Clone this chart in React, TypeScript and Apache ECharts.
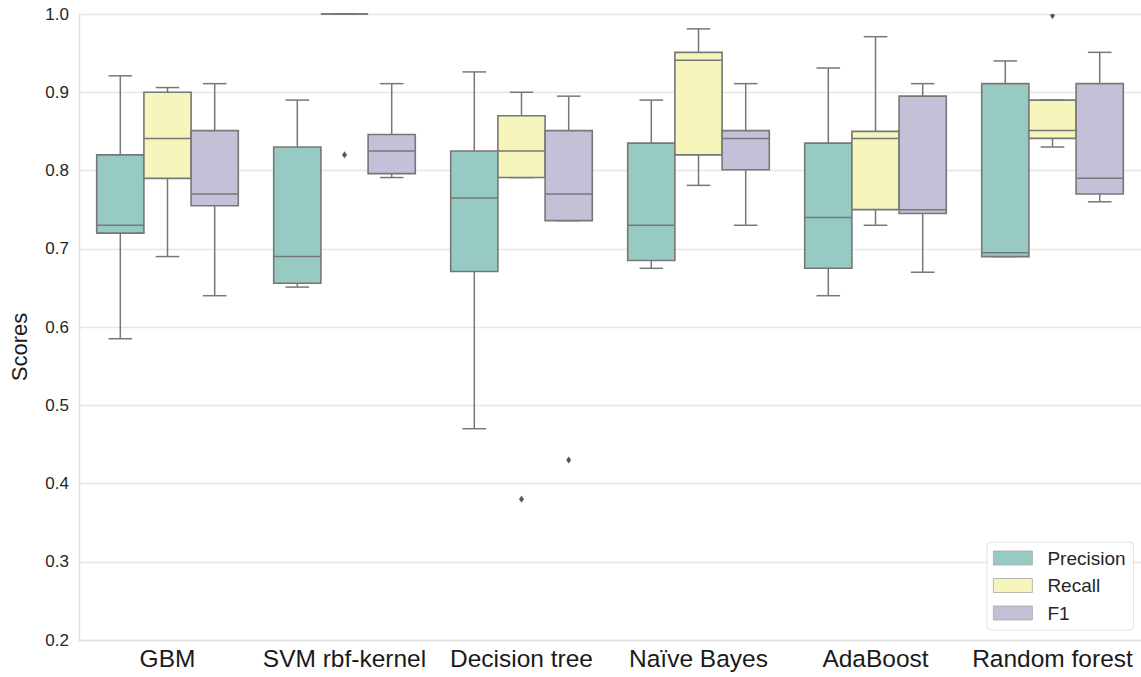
import React, { useEffect, useRef } from "react";
import * as echarts from "echarts";

const categories = ["GBM", "SVM rbf-kernel", "Decision tree", "Naïve Bayes", "AdaBoost", "Random forest"];
const metrics = ["Precision", "Recall", "F1"];
const metricColors = ["#96cac3", "#f5f5bc", "#c3c0d8"];
const yTicks = [0.2, 0.3, 0.4, 0.5, 0.6, 0.7, 0.8, 0.9, 1.0];

// [lower whisker, Q1, median, Q3, upper whisker]
const precisionStats = [
  [0.585, 0.72, 0.73, 0.82, 0.921],
  [0.651, 0.656, 0.69, 0.83, 0.89],
  [0.47, 0.671, 0.765, 0.825, 0.926],
  [0.675, 0.685, 0.73, 0.835, 0.89],
  [0.64, 0.675, 0.74, 0.835, 0.931],
  [0.69, 0.69, 0.695, 0.911, 0.94],
];
const recallStats = [
  [0.69, 0.79, 0.841, 0.9, 0.906],
  [1.0, 1.0, 1.0, 1.0, 1.0],
  [0.791, 0.791, 0.825, 0.87, 0.9],
  [0.781, 0.82, 0.941, 0.951, 0.981],
  [0.73, 0.75, 0.841, 0.85, 0.971],
  [0.83, 0.841, 0.851, 0.89, 0.89],
];
const f1Stats = [
  [0.64, 0.755, 0.77, 0.851, 0.911],
  [0.791, 0.796, 0.825, 0.846, 0.911],
  [0.736, 0.736, 0.77, 0.851, 0.895],
  [0.73, 0.801, 0.841, 0.851, 0.911],
  [0.67, 0.745, 0.75, 0.895, 0.911],
  [0.76, 0.77, 0.79, 0.911, 0.951],
];
// [category index, metric index, value]
const outliers = [
  [1, 1, 0.82],
  [2, 1, 0.38],
  [5, 1, 0.998],
  [2, 2, 0.43],
];

const allStats = [precisionStats, recallStats, f1Stats];
const LINE = "#777777";
const FONT = "Liberation Sans, Arial, Helvetica, sans-serif";

function makeBoxRenderer(metricIdx: number, fill: string) {
  return (params: any, api: any) => {
    const cat = api.value(0);
    const lo = api.value(1);
    const q1 = api.value(2);
    const med = api.value(3);
    const q3 = api.value(4);
    const hi = api.value(5);
    const band = api.size([1, 0])[0];
    const bw = (band * 0.8) / 3;
    const cx = api.coord([cat, med])[0] + (metricIdx - 1) * bw;
    const yLo = api.coord([cat, lo])[1];
    const yQ1 = api.coord([cat, q1])[1];
    const yMed = api.coord([cat, med])[1];
    const yQ3 = api.coord([cat, q3])[1];
    const yHi = api.coord([cat, hi])[1];
    const ls = { stroke: LINE, lineWidth: 1.5 };
    const capHalf = bw / 4;
    return {
      type: "group",
      children: [
        { type: "line", shape: { x1: cx, y1: yHi, x2: cx, y2: yQ3 }, style: ls },
        { type: "line", shape: { x1: cx - capHalf, y1: yHi, x2: cx + capHalf, y2: yHi }, style: ls },
        { type: "line", shape: { x1: cx, y1: yQ1, x2: cx, y2: yLo }, style: ls },
        { type: "line", shape: { x1: cx - capHalf, y1: yLo, x2: cx + capHalf, y2: yLo }, style: ls },
        {
          type: "rect",
          shape: { x: cx - bw / 2, y: yQ3, width: bw, height: yQ1 - yQ3 },
          style: { fill, stroke: LINE, lineWidth: 1.6 },
        },
        { type: "line", shape: { x1: cx - bw / 2, y1: yMed, x2: cx + bw / 2, y2: yMed }, style: ls },
      ],
    };
  };
}

function renderOutlier(params: any, api: any) {
  const cat = api.value(0);
  const m = api.value(1);
  const v = api.value(2);
  const band = api.size([1, 0])[0];
  const bw = (band * 0.8) / 3;
  const p = api.coord([cat, v]);
  const cx = p[0] + (m - 1) * bw;
  const cy = p[1];
  return {
    type: "polygon",
    shape: { points: [[cx, cy - 3.2], [cx + 2.2, cy], [cx, cy + 3.2], [cx - 2.2, cy]] },
    style: { fill: "#555555", stroke: "#555555", lineWidth: 0.5 },
  };
}

export default function App() {
  const ref = useRef<HTMLDivElement>(null);
  useEffect(() => {
    if (!ref.current) return;
    const chart = echarts.init(ref.current, undefined, { renderer: "svg" });
    const boxSeries = metrics.map((name, mi) => ({
      name,
      type: "custom",
      renderItem: makeBoxRenderer(mi, metricColors[mi]),
      itemStyle: { color: metricColors[mi] },
      encode: { x: 0, y: [1, 2, 3, 4, 5] },
      data: allStats[mi].map((s, ci) => [ci, ...s]),
      z: 3,
    }));
    chart.setOption({
      animation: false,
      backgroundColor: "#ffffff",
      textStyle: { fontFamily: FONT },
      grid: { left: 71, top: 14, width: 1072, height: 626 },
      xAxis: {
        type: "category",
        data: categories,
        boundaryGap: true,
        axisLine: { show: true, lineStyle: { color: "#dedede", width: 1.3 } },
        axisTick: { show: false },
        axisLabel: { fontSize: 24.5, color: "#1a1a1a", margin: 6, fontFamily: FONT, interval: 0 },
        splitLine: { show: false },
      },
      yAxis: {
        type: "value",
        min: yTicks[0],
        max: yTicks[yTicks.length - 1],
        interval: 0.1,
        name: "Scores",
        nameLocation: "middle",
        nameGap: 49,
        nameTextStyle: { fontSize: 22, color: "#1a1a1a", fontFamily: FONT, padding: [0, 40, 0, 0] },
        axisLine: { show: true, lineStyle: { color: "#dedede", width: 1.3 } },
        axisTick: { show: false },
        axisLabel: {
          fontSize: 17,
          color: "#262626",
          margin: 10,
          fontFamily: FONT,
          formatter: (v: number) => v.toFixed(1),
        },
        splitLine: { show: true, lineStyle: { color: "#e6e6e6", width: 1.3 } },
      },
      legend: {
        data: metrics.map((name, mi) => ({
          name,
          icon: "rect",
          itemStyle: { color: metricColors[mi], borderColor: "#a8a8a8", borderWidth: 0.8 },
        })),
        orient: "vertical",
        left: 987,
        top: 542,
        itemWidth: 39,
        itemHeight: 14,
        itemGap: 7.5,
        padding: [6, 8, 7, 6],
        backgroundColor: "#ffffff",
        borderColor: "#e2e2e2",
        borderWidth: 1,
        borderRadius: 4,
        textStyle: { fontSize: 19, color: "#262626", fontFamily: FONT, lineHeight: 20, padding: [0, 0, 0, 10] },
        selectedMode: false,
      },
      series: [
        ...boxSeries,
        {
          name: "outliers",
          type: "custom",
          renderItem: renderOutlier,
          encode: { x: 0, y: 2 },
          data: outliers,
          clip: true,
          z: 4,
        },
      ],
    });
    return () => chart.dispose();
  }, []);
  return <div ref={ref} style={{ position: "absolute", left: 0, top: 0, width: 1141, height: 677 }} />;
}
